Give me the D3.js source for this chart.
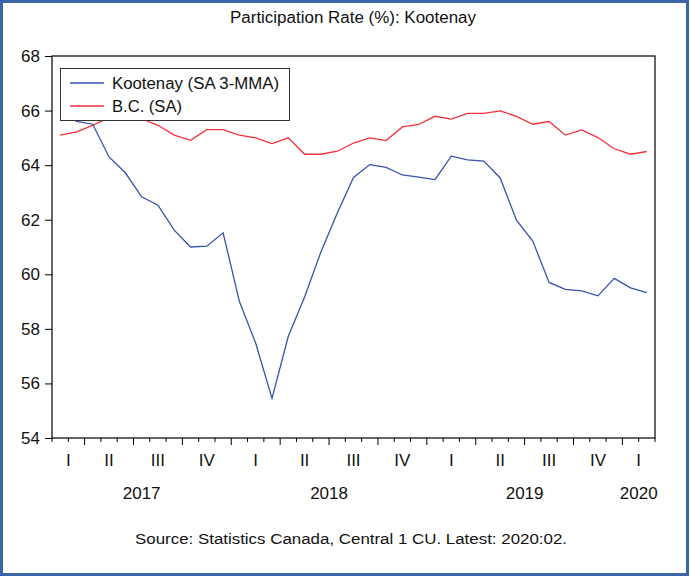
<!DOCTYPE html>
<html>
<head>
<meta charset="utf-8">
<script src="https://cdn.jsdelivr.net/npm/d3@7"></script>
<style>
  html, body { margin: 0; padding: 0; background: #fff; }
  svg { display: block; }
  text { font-family: "Liberation Sans", Arial, sans-serif; fill: #111; }
</style>
</head>
<body>
<svg id="chart" width="691" height="579"></svg>
<script>
// Monthly observations, Feb 2017 – Feb 2020
const months = [
  "2017-02","2017-03","2017-04","2017-05","2017-06","2017-07","2017-08","2017-09","2017-10","2017-11","2017-12",
  "2018-01","2018-02","2018-03","2018-04","2018-05","2018-06","2018-07","2018-08","2018-09","2018-10","2018-11","2018-12",
  "2019-01","2019-02","2019-03","2019-04","2019-05","2019-06","2019-07","2019-08","2019-09","2019-10","2019-11","2019-12",
  "2020-01","2020-02"
];
const kootenay = [66.25, 65.6, 65.5, 64.3, 63.72, 62.84, 62.53, 61.62, 61.0, 61.03, 61.52,
  59.0, 57.47, 55.45, 57.73, 59.17, 60.82, 62.24, 63.55, 64.02, 63.92, 63.64, 63.56,
  63.47, 64.33, 64.19, 64.15, 63.53, 61.98, 61.22, 59.7, 59.45, 59.39, 59.21, 59.85,
  59.5, 59.33];
const bc = [65.1, 65.22, 65.46, 65.75, 65.8, 65.7, 65.46, 65.1, 64.91, 65.3, 65.3,
  65.1, 65.0, 64.79, 65.0, 64.4, 64.4, 64.51, 64.81, 65.0, 64.9, 65.4, 65.49,
  65.79, 65.69, 65.9, 65.9, 65.99, 65.79, 65.5, 65.6, 65.1, 65.29, 65.01, 64.6,
  64.4, 64.5];
const seriesNames = ["Kootenay (SA 3-MMA)", "B.C. (SA)"];
const yTicks = [54, 56, 58, 60, 62, 64, 66, 68];
const quarterLabels = ["I", "II", "III", "IV"];
const titleText = "Participation Rate (%): Kootenay";
const sourceText = "Source: Statistics Canada, Central 1 CU. Latest: 2020:02.";

const svg = d3.select("#chart");
const W = 691, H = 579;
const plotL = 52, plotR = 655, plotT = 56, plotB = 438;
const blue = "#3552b0", red = "#f5303a";

// outer frame
svg.append("rect").attr("x", 1.5).attr("y", 1.5).attr("width", W - 5).attr("height", H - 6)
  .attr("fill", "#fff").attr("stroke", "#3a66a8").attr("stroke-width", 3);

const x = d3.scaleBand().domain(months).range([plotL, plotR]).padding(0);
const y = d3.scaleLinear().domain([54, 68]).range([plotB, plotT]);
const cx = m => x(m) + x.bandwidth() / 2;

// title
svg.append("text").attr("x", 353).attr("y", 23).attr("text-anchor", "middle")
  .attr("font-size", 16).attr("textLength", 246).attr("lengthAdjust", "spacingAndGlyphs")
  .text(titleText);

// plot frame
svg.append("rect").attr("x", plotL).attr("y", plotT).attr("width", plotR - plotL).attr("height", plotB - plotT)
  .attr("fill", "none").attr("stroke", "#000").attr("stroke-width", 1.2);

// y axis
const yAxis = d3.axisLeft(y).tickValues(yTicks).tickSize(7).tickPadding(5).tickFormat(d3.format("d"));
const gy = svg.append("g").attr("transform", `translate(${plotL},0)`).call(yAxis);
gy.select(".domain").remove();
gy.selectAll("line").attr("stroke", "#000");
gy.selectAll("text").attr("font-size", 17).attr("font-family", "Liberation Sans, Arial, sans-serif").attr("fill", "#111");

// x axis: monthly ticks at month boundaries, longer at quarter starts
const boundaries = months.map(m => x(m)).concat([plotR]);
const monthOf = i => i < months.length ? +months[i].slice(5) : 3;
const gx = svg.append("g");
boundaries.forEach((bx, i) => {
  const major = i < months.length && [1, 4, 7, 10].includes(monthOf(i));
  gx.append("line").attr("x1", bx).attr("x2", bx).attr("y1", plotB).attr("y2", plotB + (major ? 7 : 4))
    .attr("stroke", "#000").attr("stroke-width", 1);
});

// quarter labels, centred within each (possibly partial) quarter
const quarters = d3.groups(months, m => m.slice(0, 4) + "Q" + Math.ceil(+m.slice(5) / 3));
quarters.forEach(([key, ms]) => {
  const x0 = x(ms[0]), x1 = x(ms[ms.length - 1]) + x.bandwidth();
  const q = +key.slice(-1);
  svg.append("text").attr("x", (x0 + x1) / 2).attr("y", 466).attr("text-anchor", "middle")
    .attr("font-size", 17).text(quarterLabels[q - 1]);
});

// year labels
const years = d3.groups(months, m => m.slice(0, 4));
years.forEach(([yr, ms]) => {
  const x0 = x(ms[0]), x1 = x(ms[ms.length - 1]) + x.bandwidth();
  svg.append("text").attr("x", (x0 + x1) / 2).attr("y", 499).attr("text-anchor", "middle")
    .attr("font-size", 17).text(yr);
});

// series lines
const line = d3.line().x((d, i) => cx(months[i])).y(d => y(d));
svg.append("path").datum(bc).attr("d", line).attr("fill", "none").attr("stroke", red).attr("stroke-width", 1.3);
svg.append("path").datum(kootenay).attr("d", line).attr("fill", "none").attr("stroke", blue).attr("stroke-width", 1.3);

// legend
const lg = svg.append("g");
lg.append("rect").attr("x", 60.5).attr("y", 68.5).attr("width", 229).attr("height", 52)
  .attr("fill", "#fff").attr("stroke", "#333").attr("stroke-width", 1);
[[seriesNames[0], blue, 83], [seriesNames[1], red, 106]].forEach(([name, col, ly], k) => {
  lg.append("line").attr("x1", 70).attr("x2", 104).attr("y1", ly).attr("y2", ly).attr("stroke", col).attr("stroke-width", 1.3);
  lg.append("text").attr("x", 112).attr("y", ly + 6).attr("font-size", 16)
    .attr("textLength", k === 0 ? 167 : 70).attr("lengthAdjust", "spacingAndGlyphs").text(name);
});

// source note
svg.append("text").attr("x", 351).attr("y", 544).attr("text-anchor", "middle")
  .attr("font-size", 15.5).attr("textLength", 432).attr("lengthAdjust", "spacingAndGlyphs")
  .text(sourceText);
</script>
</body>
</html>
